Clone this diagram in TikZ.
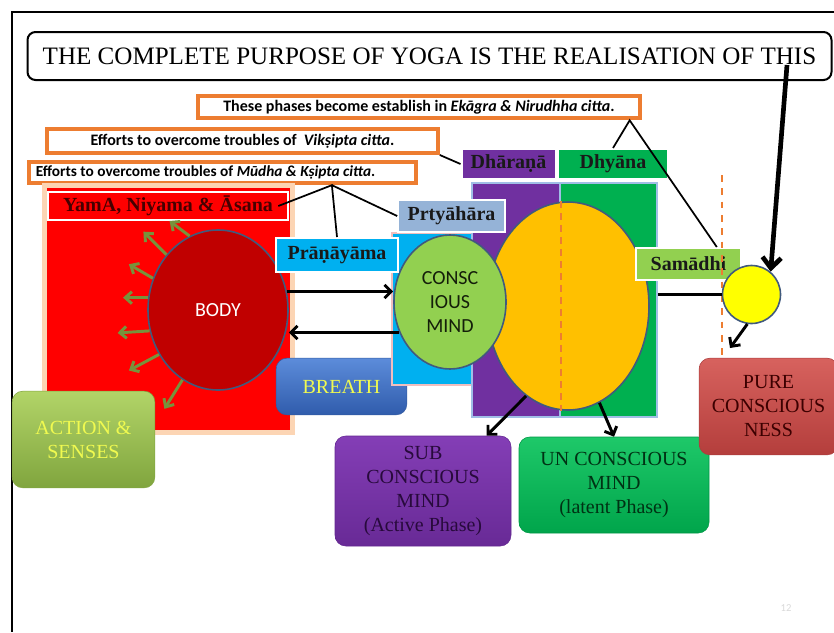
\documentclass[tikz,border=0pt]{standalone}
\usepackage{fontspec}
\setmainfont{Liberation Serif}
\newfontfamily\calibri{Carlito}
\usetikzlibrary{arrows.meta,shapes.geometric,calc}

\begin{document}
\begin{tikzpicture}[x=0.75pt,y=0.75pt,yscale=-1,xscale=1,
  notebox/.style={draw={rgb,255:red,237;green,125;blue,49},line width=3pt,fill=white,inner sep=0pt,font=\calibri\bfseries\fontsize{12}{14}\selectfont},
  phaselabel/.style={draw=white,line width=1.5pt,inner sep=0pt,font=\bfseries\fontsize{15}{18}\selectfont,text={rgb,255:red,25;green,25;blue,25}},
  blob/.style={ellipse,draw={rgb,255:red,65;green,90;blue,125},line width=1.2pt,inner sep=0pt,align=center},
  zone/.style={draw={rgb,255:red,160;green,190;blue,230},line width=1.2pt,inner sep=0pt},
  mindbox/.style={rounded corners=8pt,inner sep=0pt,align=center,font=\fontsize{15}{18}\selectfont},
  sensearrow/.style={draw={rgb,255:red,119;green,147;blue,60},line width=2.2pt,-{Straight Barb[length=5pt,width=9pt]}},
  flowarrow/.style={line width=2.2pt,-{Straight Barb[length=5pt,width=10pt]}},
  thinline/.style={line width=1.3pt}
]
\useasboundingbox (0,0) rectangle (834,632);
% slide frame
\draw [line width=1.5pt] (834,12) -- (12,12) -- (12,632);

% title
\node (title) at (429.5,56) [draw,line width=1.5pt,rounded corners=6pt,minimum width=603pt,minimum height=36pt,inner sep=0pt,font=\fontsize{18.8}{22}\selectfont] {THE COMPLETE PURPOSE OF YOGA IS THE REALISATION OF THIS};
\coordinate (thistip) at (787,65);

% citta notes
\node (phases) at (419,107) [notebox,minimum width=331pt,minimum height=17pt] {These phases become establish in \textit{Ekāgra \& Nirudhha citta}.};
\node (vik) at (242.5,141) [notebox,minimum width=293pt,minimum height=18pt] {Efforts to overcome troubles of \ \textit{Vikṣipta citta}.};
\node (mud) at (222.5,172.5) [notebox,minimum width=290pt,minimum height=16pt,font=\calibri\bfseries\fontsize{11.5}{14}\selectfont] {\makebox[280pt][l]{Efforts to overcome troubles of \textit{Mūdha \& Kṣipta citta}.}};

% body part
\draw [draw={rgb,255:red,252;green,213;blue,180},line width=7pt] (47,188) rectangle (290,430);
\draw [fill={rgb,255:red,255;green,0;blue,0},draw=none] (47,188) rectangle (290,430);
\node (yama) at (168,206) [phaselabel,fill={rgb,255:red,255;green,0;blue,0},text={rgb,255:red,70;green,0;blue,0},minimum width=180pt,minimum height=21pt] {YamA, Niyama \& Āsana};
\node (body) at (218,310) [blob,fill={rgb,255:red,192;green,0;blue,0},minimum width=105pt,minimum height=120pt,text=white,font=\calibri\fontsize{15}{18}\selectfont] {BODY};
\foreach \a/\dx/\dy in {111/-20/-15,133/-23/-23,154/-24/-14,170/-25/0,197/-32/2,217/-30/16,243/-18/29}
  \draw [sensearrow] (body.\a) -- ++(\dx,\dy);

\node (action) at (83.5,439.5) [mindbox,minimum width=107pt,minimum height=72.5pt,draw={rgb,255:red,130;green,165;blue,65},top color={rgb,255:red,178;green,212;blue,104},bottom color={rgb,255:red,128;green,165;blue,62},text={rgb,255:red,240;green,250;blue,80}] {ACTION \&\\SENSES};
\node (breath) at (341.5,386.5) [mindbox,minimum width=98pt,minimum height=42.5pt,draw={rgb,255:red,50;green,90;blue,160},top color={rgb,255:red,92;green,140;blue,218},bottom color={rgb,255:red,48;green,92;blue,172},text={rgb,255:red,240;green,250;blue,80}] {BREATH};

% mind part
\draw [fill={rgb,255:red,0;green,176;blue,240},draw={rgb,255:red,240;green,190;blue,190},line width=1pt] (392,233) rectangle (520,385);
\node (dharzone) at (516,300) [zone,fill={rgb,255:red,112;green,48;blue,160},minimum width=66pt,minimum height=175.5pt] {};
\node (dhyazone) at (608.5,300) [zone,fill={rgb,255:red,0;green,176;blue,80},minimum width=72.75pt,minimum height=175.5pt] {};
\node (dhar) at (508.5,164) [phaselabel,fill={rgb,255:red,112;green,48;blue,160},minimum width=70.5pt,minimum height=22.5pt] {Dhāraṇā};
\node (dhya) at (613,164) [phaselabel,fill={rgb,255:red,0;green,176;blue,80},minimum width=82.5pt,minimum height=22.5pt] {Dhyāna};
\node (deep) at (568,306) [blob,fill={rgb,255:red,255;green,192;blue,0},minimum width=121.5pt,minimum height=156pt] {};
\draw [draw={rgb,255:red,237;green,125;blue,49},line width=1.5pt,dash pattern={on 5pt off 4pt}] (dharzone.east |- deep.north) -- (dharzone.east |- deep.south);
\node (prty) at (451.5,216) [phaselabel,fill={rgb,255:red,149;green,179;blue,215},minimum width=80pt,minimum height=24pt] {Prtyāhāra};
\node (mind) at (450,302) [blob,fill={rgb,255:red,146;green,208;blue,80},minimum width=84pt,minimum height=100.5pt,font=\calibri\fontsize{15}{18}\selectfont,text={rgb,255:red,20;green,30;blue,10}] {CONSC\\IOUS\\MIND};
\node (pran) at (337,255) [phaselabel,fill={rgb,255:red,0;green,176;blue,240},minimum width=91.5pt,minimum height=25.5pt] {Prāṇāyāma};

\draw [flowarrow] (body.15) -- (body.15 -| mind.west);
\draw [flowarrow] (mind.211) -- (mind.211 -| body.east);

\node (sub) at (423,491) [mindbox,minimum width=132pt,minimum height=82.5pt,draw={rgb,255:red,100;green,40;blue,145},top color={rgb,255:red,132;green,62;blue,182},bottom color={rgb,255:red,104;green,42;blue,150},text={rgb,255:red,40;green,10;blue,60}] {SUB\\CONSCIOUS\\MIND\\(Active Phase)};
\node (un) at (614,485) [mindbox,minimum width=142.5pt,minimum height=72pt,draw={rgb,255:red,0;green,150;blue,70},top color={rgb,255:red,30;green,200;blue,105},bottom color={rgb,255:red,0;green,165;blue,75},text={rgb,255:red,0;green,50;blue,20}] {UN CONSCIOUS\\MIND\\(latent Phase)};
\draw [flowarrow] (deep.245) -- (sub.41);
\draw [flowarrow] (deep.288) -- (un.north);

% samadhi part
\node (sama) at (688.5,264) [phaselabel,fill={rgb,255:red,146;green,208;blue,80},minimum width=78.75pt,minimum height=24pt] {Samādhi};
\coordinate (dashtop) at (722,175);
\coordinate (dashbot) at (722,355);
\draw [draw={rgb,255:red,237;green,125;blue,49},line width=1.5pt,dash pattern={on 5pt off 5pt}] (dashtop) -- (dashbot);
\node (purecirc) at (751.5,294.5) [circle,draw={rgb,255:red,65;green,90;blue,125},line width=1.2pt,fill={rgb,255:red,255;green,255;blue,0},minimum size=43.5pt,inner sep=0pt] {};
\draw [thinline,line width=2pt] (dhyazone.east |- purecirc.west) -- (purecirc.west);
\node (pure) at (768.5,406.5) [mindbox,minimum width=104pt,minimum height=72.5pt,draw={rgb,255:red,170;green,60;blue,60},top color={rgb,255:red,215;green,98;blue,94},bottom color={rgb,255:red,180;green,62;blue,60},text={rgb,255:red,60;green,0;blue,0}] {PURE\\CONSCIOUS\\NESS};
\coordinate (puretip) at (730,348);
\draw [flowarrow] (purecirc.262) -- (puretip);
\draw [line width=3.5pt,-{Straight Barb[length=8pt,width=14pt]}] (thistip) -- (purecirc.50);

% connectors to the notes
\coordinate (mudtip) at ($(mud.south west)!0.78!(mud.south east)$);
\draw [thinline] ([xshift=-8pt]yama.east) -- (mudtip) -- (pran.north);
\draw [thinline] (mudtip) -- (prty.west);
\draw [thinline] (vik.south east) -- (dhar.west);
\coordinate (phasestip) at ([xshift=-9pt]phases.south east);
\draw [thinline] (dhya.north) -- (phasestip) -- (sama.31);

\node (slideno) at (786,608) [text=black!15,font=\calibri\fontsize{8}{10}\selectfont] {12};
\end{tikzpicture}
\end{document}
